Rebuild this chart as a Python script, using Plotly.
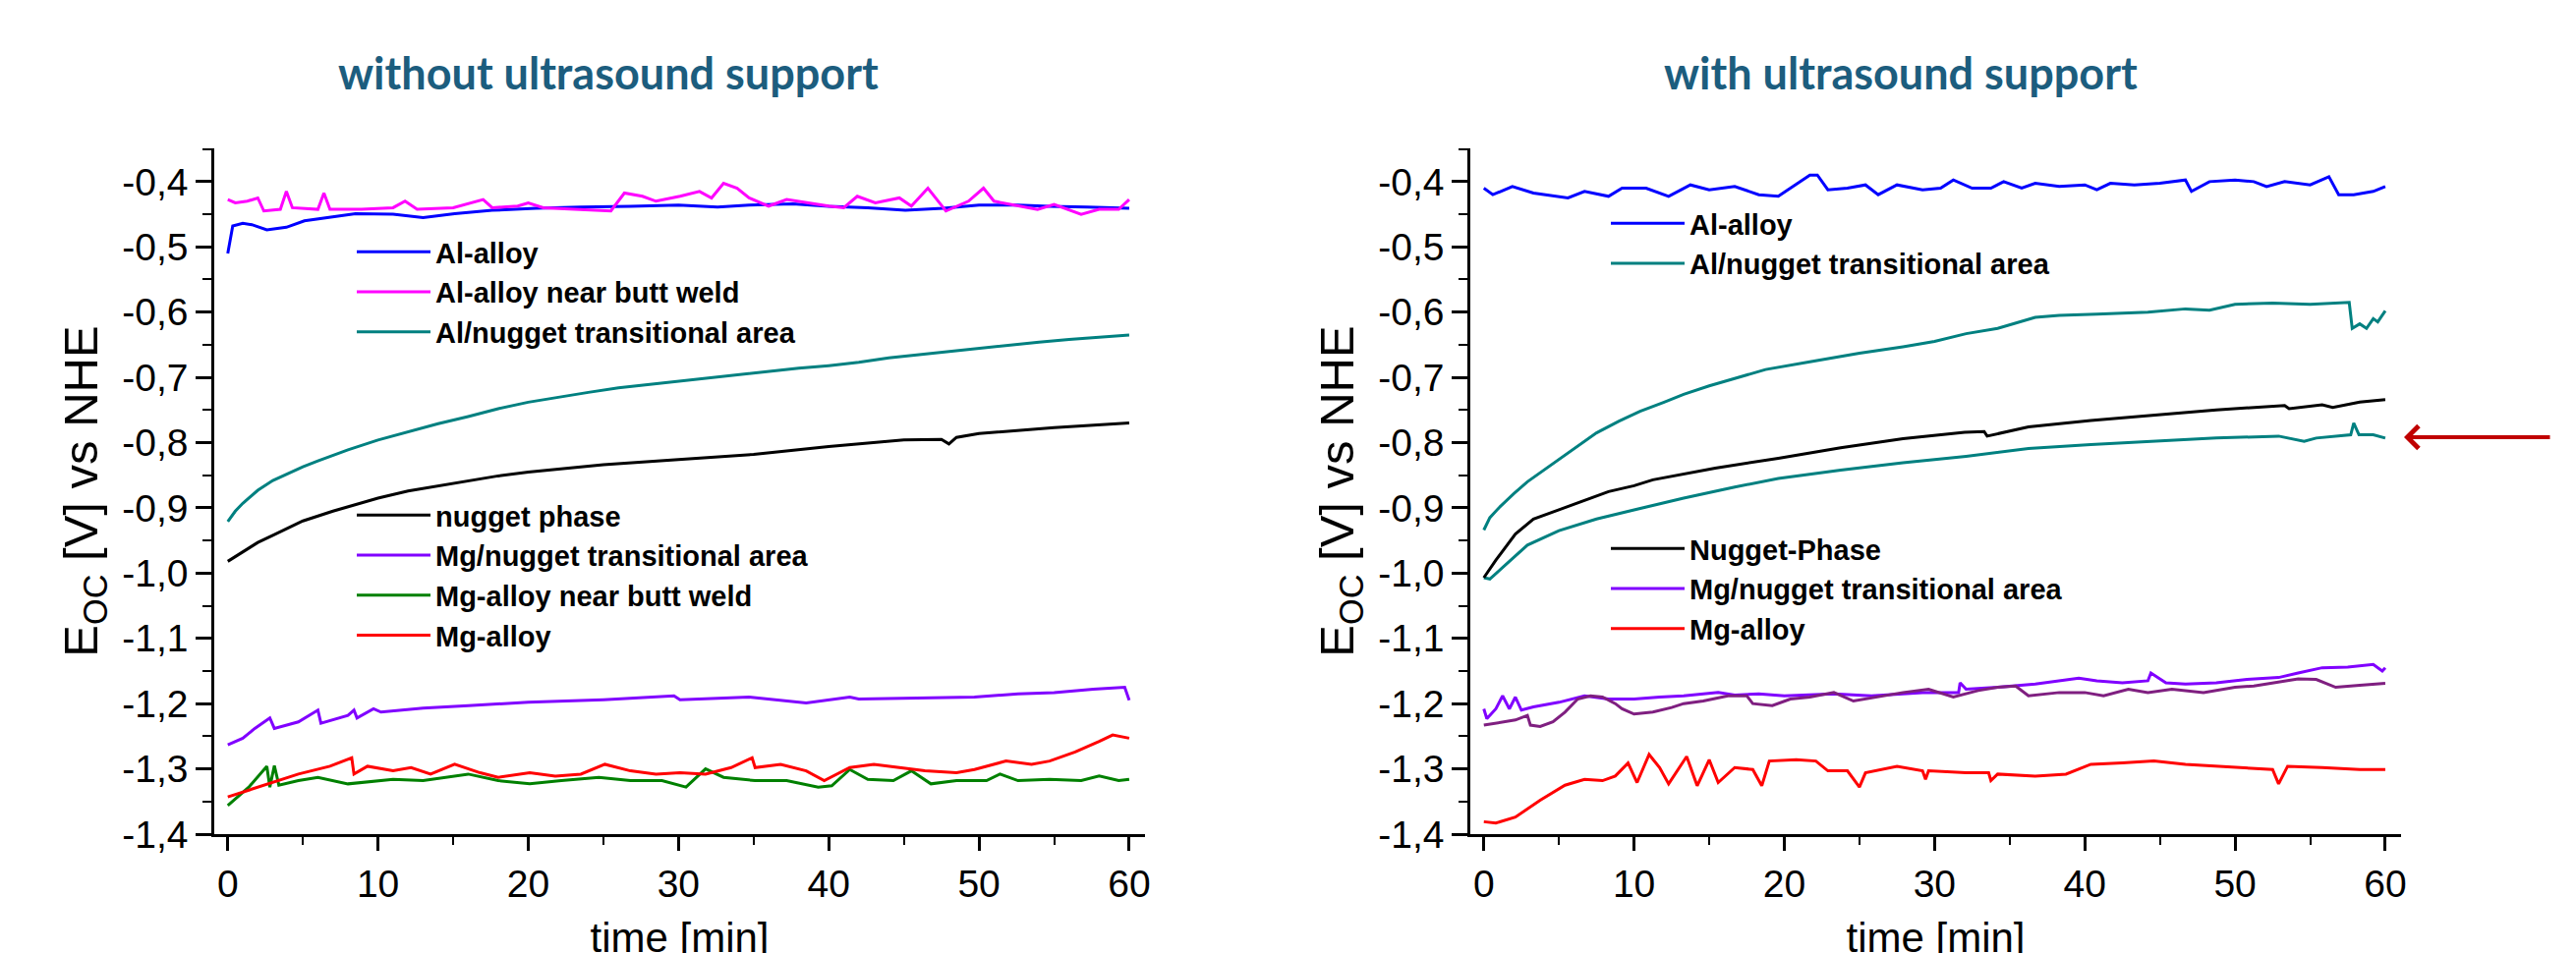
import plotly.graph_objects as go

# ---------------- data: left panel (without ultrasound support) ----------------
L_al_t = [0, 0.33, 1, 1.6, 2.6, 3.9, 5.1, 6.8, 8.5, 11, 13, 15.1, 17.6, 20.5, 23.5, 26.8, 30, 32.6, 34.7, 37.6, 40, 42.6, 45.1, 47.6, 50, 52.6, 54.7, 57.2, 60]
L_al_v = [-0.51, -0.468, -0.464, -0.466, -0.474, -0.470, -0.460, -0.454, -0.449, -0.450, -0.455, -0.449, -0.444, -0.441, -0.439, -0.438, -0.436, -0.439, -0.436, -0.434, -0.438, -0.440, -0.444, -0.441, -0.436, -0.436, -0.438, -0.439, -0.441]

L_alweld_t = [0, 0.5, 1.3, 2, 2.4, 3.5, 3.9, 4.3, 6, 6.4, 6.8, 8.9, 11, 11.8, 12.6, 15, 17, 17.6, 19.3, 20, 21, 23.5, 25.5, 26.4, 27.6, 28.5, 30.1, 31.4, 32.2, 33, 33.9, 34.7, 36, 37.2, 38.5, 40, 41, 41.9, 43.1, 44.7, 45.5, 46.6, 47.2, 47.8, 49.3, 50.3, 51, 52.6, 53.9, 55, 56.8, 58, 59.3, 60]
L_alweld_v = [-0.4275, -0.4325, -0.430, -0.425, -0.445, -0.4425, -0.415, -0.440, -0.4425, -0.4175, -0.4425, -0.4425, -0.440, -0.430, -0.4425, -0.440, -0.4275, -0.440, -0.4375, -0.4325, -0.440, -0.4425, -0.445, -0.4175, -0.4225, -0.430, -0.4225, -0.415, -0.425, -0.4025, -0.410, -0.425, -0.4375, -0.4275, -0.4325, -0.4375, -0.440, -0.4225, -0.4325, -0.425, -0.4375, -0.410, -0.4275, -0.445, -0.430, -0.410, -0.430, -0.4375, -0.4425, -0.435, -0.450, -0.4425, -0.4425, -0.4275]

L_alnug_t = [0, 0.5, 1, 2, 3, 4, 5, 6, 7, 8, 10, 12, 14, 16, 18, 20, 22, 24, 26, 28, 30, 32, 34, 36, 38, 40, 42, 44, 46, 48, 50, 52, 54, 56, 58, 60]
L_alnug_v = [-0.921, -0.905, -0.893, -0.873, -0.858, -0.847, -0.837, -0.828, -0.819, -0.811, -0.796, -0.783, -0.771, -0.760, -0.748, -0.738, -0.730, -0.723, -0.716, -0.711, -0.706, -0.700, -0.695, -0.690, -0.686, -0.682, -0.677, -0.670, -0.665, -0.660, -0.655, -0.650, -0.646, -0.642, -0.638, -0.635]

L_nug_t = [0, 0.5, 1, 2, 3, 5, 7, 10, 12, 15, 18, 20, 25, 30, 35, 40, 45, 47.5, 48, 48.5, 50, 55, 60]
L_nug_v = [-0.982, -0.975, -0.968, -0.953, -0.942, -0.920, -0.905, -0.885, -0.874, -0.862, -0.851, -0.845, -0.834, -0.826, -0.818, -0.806, -0.796, -0.795, -0.802, -0.792, -0.786, -0.777, -0.770]

L_mgnug_t = [0, 1, 1.8, 2.8, 3.1, 4.7, 6.0, 6.2, 8.0, 8.4, 8.6, 9.7, 10.2, 13, 16, 20, 25, 29.7, 30.1, 34.7, 38.5, 41.4, 42, 45.5, 49.7, 52.6, 55, 57.6, 59.7, 60]
L_mgnug_v = [-1.263, -1.253, -1.238, -1.222, -1.238, -1.228, -1.210, -1.230, -1.218, -1.210, -1.222, -1.208, -1.213, -1.207, -1.203, -1.198, -1.194, -1.188, -1.194, -1.190, -1.199, -1.190, -1.193, -1.192, -1.190, -1.185, -1.183, -1.178, -1.175, -1.195]

L_mgweld_t = [0, 1.4, 2.6, 2.8, 3.1, 3.4, 4.7, 6, 8, 11, 13, 16, 18, 20.1, 22.2, 24.7, 26.8, 28.9, 30.5, 31.8, 33, 35.1, 37.2, 39.3, 40.2, 41.4, 42.6, 44.3, 45.5, 46.8, 48.5, 50.5, 51.4, 52.6, 54.7, 56.8, 58, 59.3, 60]
L_mgweld_v = [-1.356, -1.328, -1.296, -1.328, -1.295, -1.325, -1.318, -1.313, -1.323, -1.316, -1.318, -1.308, -1.318, -1.323, -1.318, -1.313, -1.318, -1.318, -1.328, -1.300, -1.313, -1.318, -1.318, -1.328, -1.326, -1.301, -1.316, -1.318, -1.303, -1.323, -1.318, -1.318, -1.308, -1.318, -1.316, -1.318, -1.311, -1.318, -1.316]

L_mg_t = [0, 2.6, 4.7, 6.8, 8.25, 8.4, 9.3, 11, 12.2, 13.5, 15.1, 16.8, 18, 20.1, 21.8, 23.5, 25.1, 26.8, 28.5, 30.1, 31.8, 33.5, 34.9, 35.1, 36.8, 38.5, 39.7, 41.4, 43, 44.7, 46.4, 48.5, 49.7, 51.8, 53.5, 54.7, 56.4, 58, 58.9, 60]
L_mg_v = [-1.343, -1.323, -1.308, -1.296, -1.283, -1.308, -1.296, -1.303, -1.298, -1.308, -1.293, -1.306, -1.313, -1.306, -1.311, -1.308, -1.293, -1.303, -1.308, -1.306, -1.308, -1.298, -1.283, -1.298, -1.293, -1.303, -1.318, -1.298, -1.293, -1.298, -1.303, -1.306, -1.301, -1.288, -1.293, -1.288, -1.274, -1.258, -1.248, -1.253]

# ---------------- data: right panel (with ultrasound support) ----------------
R_al_t = [0, 0.6, 1.9, 3.3, 5.6, 6.7, 8.3, 9.2, 10.8, 12.3, 13.75, 15, 16.7, 18.3, 19.6, 20.6, 21.7, 22.2, 22.9, 24.2, 25.4, 26.25, 27.5, 29.2, 30.4, 31.25, 32.5, 33.75, 34.6, 35.8, 36.7, 38.3, 40, 40.8, 41.7, 43.3, 45, 46.7, 47.1, 48.3, 50, 51.25, 52.1, 53.3, 55, 56.25, 56.9, 57.9, 59.2, 60]
R_al_v = [-0.410, -0.420, -0.4075, -0.4175, -0.425, -0.415, -0.4225, -0.410, -0.410, -0.4225, -0.405, -0.4125, -0.4075, -0.420, -0.4225, -0.4075, -0.390, -0.390, -0.4125, -0.410, -0.405, -0.420, -0.405, -0.4125, -0.410, -0.3975, -0.410, -0.410, -0.400, -0.410, -0.4025, -0.4075, -0.405, -0.4125, -0.4025, -0.405, -0.4025, -0.3975, -0.415, -0.400, -0.3975, -0.400, -0.4075, -0.400, -0.405, -0.3925, -0.420, -0.420, -0.415, -0.4075]

R_alnug1_t = [0, 0.4, 1, 2, 2.9, 4, 5, 6, 7.5, 9, 10.4, 12, 13.3, 15, 16.25, 18.75, 21.7, 25, 27.9, 30, 32.1, 34.2, 36.7, 38.3, 40.8, 44.2, 46.7, 48.3, 50, 52.5, 55, 57.6, 57.8, 58.3, 58.75, 59.2, 59.5, 60]
R_alnug1_v = [-0.934, -0.915, -0.900, -0.878, -0.860, -0.842, -0.825, -0.810, -0.785, -0.767, -0.752, -0.738, -0.726, -0.713, -0.705, -0.688, -0.676, -0.663, -0.653, -0.645, -0.633, -0.625, -0.608, -0.605, -0.603, -0.600, -0.595, -0.597, -0.588, -0.586, -0.588, -0.585, -0.625, -0.618, -0.625, -0.610, -0.615, -0.598]

R_alnug2_t = [0, 0.4, 1.7, 2.9, 5, 7.5, 10, 13.3, 16.7, 19.6, 23.75, 27.9, 32.1, 36.25, 40.4, 44.6, 48.75, 52.9, 54.6, 55.4, 56.7, 57.7, 57.9, 58.25, 59.2, 60]
R_alnug2_v = [-1.007, -1.009, -0.982, -0.957, -0.935, -0.917, -0.903, -0.885, -0.868, -0.855, -0.842, -0.831, -0.821, -0.809, -0.803, -0.798, -0.793, -0.790, -0.798, -0.793, -0.790, -0.788, -0.770, -0.788, -0.788, -0.793]

R_nug_t = [0, 0.8, 2.1, 3.3, 5, 8.3, 10, 11.25, 15.4, 19.6, 23.75, 27.9, 32, 33.3, 33.5, 36.25, 40.4, 44.6, 48.75, 53.3, 53.6, 55.8, 56.5, 58.3, 60]
R_nug_v = [-1.007, -0.980, -0.940, -0.917, -0.903, -0.875, -0.866, -0.857, -0.839, -0.824, -0.808, -0.794, -0.784, -0.783, -0.790, -0.776, -0.766, -0.758, -0.750, -0.743, -0.748, -0.742, -0.746, -0.738, -0.734]

R_mgnug1_t = [0, 0.2, 0.8, 1.25, 1.7, 2.1, 2.5, 3.3, 5, 6.7, 8.3, 10, 11.7, 13.3, 15.6, 16.7, 18.3, 20, 23.3, 25.8, 29.2, 31.6, 31.7, 32.1, 34.2, 36.7, 39.6, 40.8, 42.5, 44.2, 44.4, 45.4, 46.7, 48.75, 50.8, 52.9, 54.2, 55.8, 57.5, 59.2, 59.8, 60]
R_mgnug1_v = [-1.208, -1.223, -1.208, -1.188, -1.208, -1.190, -1.210, -1.205, -1.198, -1.188, -1.193, -1.193, -1.190, -1.188, -1.183, -1.187, -1.185, -1.188, -1.185, -1.188, -1.183, -1.183, -1.168, -1.178, -1.175, -1.170, -1.161, -1.165, -1.168, -1.165, -1.153, -1.168, -1.170, -1.168, -1.163, -1.160, -1.153, -1.145, -1.144, -1.140, -1.150, -1.145]

R_mgnug2_t = [0, 0.8, 2.1, 2.9, 3.1, 3.75, 4.6, 5.4, 6.25, 7.1, 7.9, 8.75, 9.2, 10, 11.25, 12.5, 13.3, 14.6, 16.25, 17.5, 17.9, 19.2, 20.4, 21.7, 23.3, 24.6, 25.8, 27.9, 29.6, 31.25, 32.9, 34.2, 35.4, 36.25, 38.3, 40, 41.25, 42.9, 44.2, 45.8, 47.9, 50, 51.25, 52.5, 54.2, 55.4, 56.7, 58.3, 60]
R_mgnug2_v = [-1.233, -1.230, -1.225, -1.218, -1.233, -1.235, -1.228, -1.213, -1.193, -1.188, -1.190, -1.200, -1.208, -1.216, -1.213, -1.206, -1.200, -1.196, -1.188, -1.188, -1.200, -1.203, -1.193, -1.190, -1.183, -1.196, -1.191, -1.183, -1.178, -1.190, -1.180, -1.175, -1.173, -1.188, -1.183, -1.183, -1.188, -1.178, -1.183, -1.178, -1.183, -1.175, -1.173, -1.168, -1.162, -1.163, -1.175, -1.172, -1.169]

R_mg_t = [0, 0.8, 2.1, 3.75, 5.4, 6.7, 7.9, 8.75, 9.6, 10.2, 11, 11.7, 12.3, 13.5, 14.2, 15, 15.6, 16.7, 17.9, 18.5, 19, 20.8, 22.1, 22.9, 24.2, 25, 25.4, 27.5, 29.2, 29.4, 29.6, 32.1, 33.6, 33.75, 34.2, 36.7, 38.75, 40.4, 42.5, 44.6, 46.7, 50, 52.5, 52.9, 53.5, 55.8, 58.3, 60]
R_mg_v = [-1.381, -1.383, -1.374, -1.348, -1.325, -1.316, -1.318, -1.311, -1.291, -1.321, -1.278, -1.298, -1.323, -1.281, -1.326, -1.286, -1.321, -1.298, -1.301, -1.326, -1.288, -1.286, -1.288, -1.303, -1.303, -1.328, -1.306, -1.296, -1.303, -1.316, -1.303, -1.306, -1.306, -1.318, -1.308, -1.311, -1.308, -1.293, -1.291, -1.288, -1.293, -1.298, -1.301, -1.323, -1.296, -1.298, -1.301, -1.301]

# ---------------- ticks & labels ----------------
x_tickvals = [0, 10, 20, 30, 40, 50, 60]
x_ticktext = ["0", "10", "20", "30", "40", "50", "60"]
y_tickvals = [-1.4, -1.3, -1.2, -1.1, -1.0, -0.9, -0.8, -0.7, -0.6, -0.5, -0.4]
y_ticktext = ["-1,4", "-1,3", "-1,2", "-1,1", "-1,0", "-0,9", "-0,8", "-0,7", "-0,6", "-0,5", "-0,4"]
titles = ["without ultrasound support", "with ultrasound support"]
x_title = "time [min]"
y_title = "E<sub>OC</sub> [V] vs NHE"

# ---------------- figure ----------------
W, H = 2621, 970
fig = go.Figure()
LW = 3

def add(t, v, name, color, xa, ya, legend, showlegend=True):
    fig.add_trace(go.Scatter(x=t, y=v, mode="lines", name=name,
                             line=dict(color=color, width=LW),
                             xaxis=xa, yaxis=ya, legend=legend,
                             showlegend=showlegend))

add(L_al_t, L_al_v, "Al-alloy", "#0000FF", "x", "y", "legend")
add(L_alweld_t, L_alweld_v, "Al-alloy near butt weld", "#FF00FF", "x", "y", "legend")
add(L_alnug_t, L_alnug_v, "Al/nugget transitional area", "#008080", "x", "y", "legend")
add(L_nug_t, L_nug_v, "nugget phase", "#000000", "x", "y", "legend2")
add(L_mgnug_t, L_mgnug_v, "Mg/nugget transitional area", "#8000FF", "x", "y", "legend2")
add(L_mgweld_t, L_mgweld_v, "Mg-alloy near butt weld", "#008000", "x", "y", "legend2")
add(L_mg_t, L_mg_v, "Mg-alloy", "#FF0000", "x", "y", "legend2")

add(R_al_t, R_al_v, "Al-alloy", "#0000FF", "x2", "y2", "legend3")
add(R_alnug1_t, R_alnug1_v, "Al/nugget transitional area", "#008080", "x2", "y2", "legend3")
add(R_alnug2_t, R_alnug2_v, "Al/nugget transitional area", "#008080", "x2", "y2", "legend3", False)
add(R_nug_t, R_nug_v, "Nugget-Phase", "#000000", "x2", "y2", "legend4")
add(R_mgnug1_t, R_mgnug1_v, "Mg/nugget transitional area", "#8000FF", "x2", "y2", "legend4")
add(R_mgnug2_t, R_mgnug2_v, "Mg/nugget transitional area", "#7F1F80", "x2", "y2", "legend4", False)
add(R_mg_t, R_mg_v, "Mg-alloy", "#FF0000", "x2", "y2", "legend4")

FAM = "Liberation Sans, Arial, sans-serif"
tick_font = dict(family=FAM, size=39, color="black")
ytitle_font = dict(family=FAM, size=49, color="black")
xtitle_font = dict(family=FAM, size=42, color="black")

def xaxis(domain, anchor):
    return dict(domain=domain, anchor=anchor, range=[-0.9, 61.05],
                showline=True, linecolor="black", linewidth=2.5,
                ticks="outside", ticklen=14, tickwidth=2.5, tickcolor="black",
                tickmode="array", tickvals=x_tickvals, ticktext=x_ticktext,
                minor=dict(ticks="outside", ticklen=8, tickwidth=2, tickcolor="black", tick0=0, dtick=5),
                tickfont=tick_font, showgrid=False, zeroline=False, automargin=False,
                title=dict(text=x_title, font=xtitle_font, standoff=22))

def yaxis(domain, anchor):
    return dict(domain=domain, anchor=anchor, range=[-1.4, -0.349],
                showline=True, linecolor="black", linewidth=2.5,
                ticks="outside", ticklen=16, tickwidth=2.5, tickcolor="black",
                tickmode="array", tickvals=y_tickvals, ticktext=y_ticktext,
                minor=dict(ticks="outside", ticklen=9, tickwidth=2, tickcolor="black", tick0=-1.4, dtick=0.05),
                tickfont=tick_font, showgrid=False, zeroline=False, automargin=False,
                title=dict(text=y_title, font=ytitle_font, standoff=10))

ydom = [129 / H, 827 / H]
fig.update_layout(
    width=W, height=H,
    margin=dict(l=0, r=0, t=0, b=0),
    paper_bgcolor="white", plot_bgcolor="white",
    template="none",
    xaxis=xaxis([210 / W, 1157 / W], "y"),
    yaxis=yaxis(ydom, "x"),
    xaxis2=xaxis([1488 / W, 2435 / W], "y2"),
    yaxis2=yaxis(ydom, "x2"),
)

leg_font = dict(family=FAM, size=29, color="black", weight="bold")
def legend(x, y):
    return dict(x=x, y=y, xanchor="left", yanchor="top", bgcolor="rgba(0,0,0,0)",
                borderwidth=0, font=leg_font, tracegroupgap=0, traceorder="normal",
                itemwidth=75)

fig.update_layout(
    legend=legend(350 / W, (H - 223) / H),
    legend2=legend(350 / W, (H - 491) / H),
    legend3=legend(1626 / W, (H - 194) / H),
    legend4=legend(1626 / W, (H - 525) / H),
)

title_color = "#1C5D7E"
title_font2 = dict(family="Lato, Open Sans, sans-serif", size=45, color=title_color, weight="bold")
fig.add_annotation(text=titles[0], x=611 / W, y=(H - 66) / H, xref="paper", yref="paper",
                   showarrow=False, font=title_font2, xanchor="center", yanchor="middle")
fig.add_annotation(text=titles[1], x=1926 / W, y=(H - 66) / H, xref="paper", yref="paper",
                   showarrow=False, font=title_font2, xanchor="center", yanchor="middle")

# red arrow pointing at the lower Al/nugget curve
fig.add_annotation(text="", x=2438 / W, y=(H - 437) / H, xref="paper", yref="paper",
                   ax=150, ay=0, showarrow=True, arrowhead=4, arrowsize=1.1,
                   arrowwidth=4, arrowcolor="#C00000")

fig.write_html("out.html")
